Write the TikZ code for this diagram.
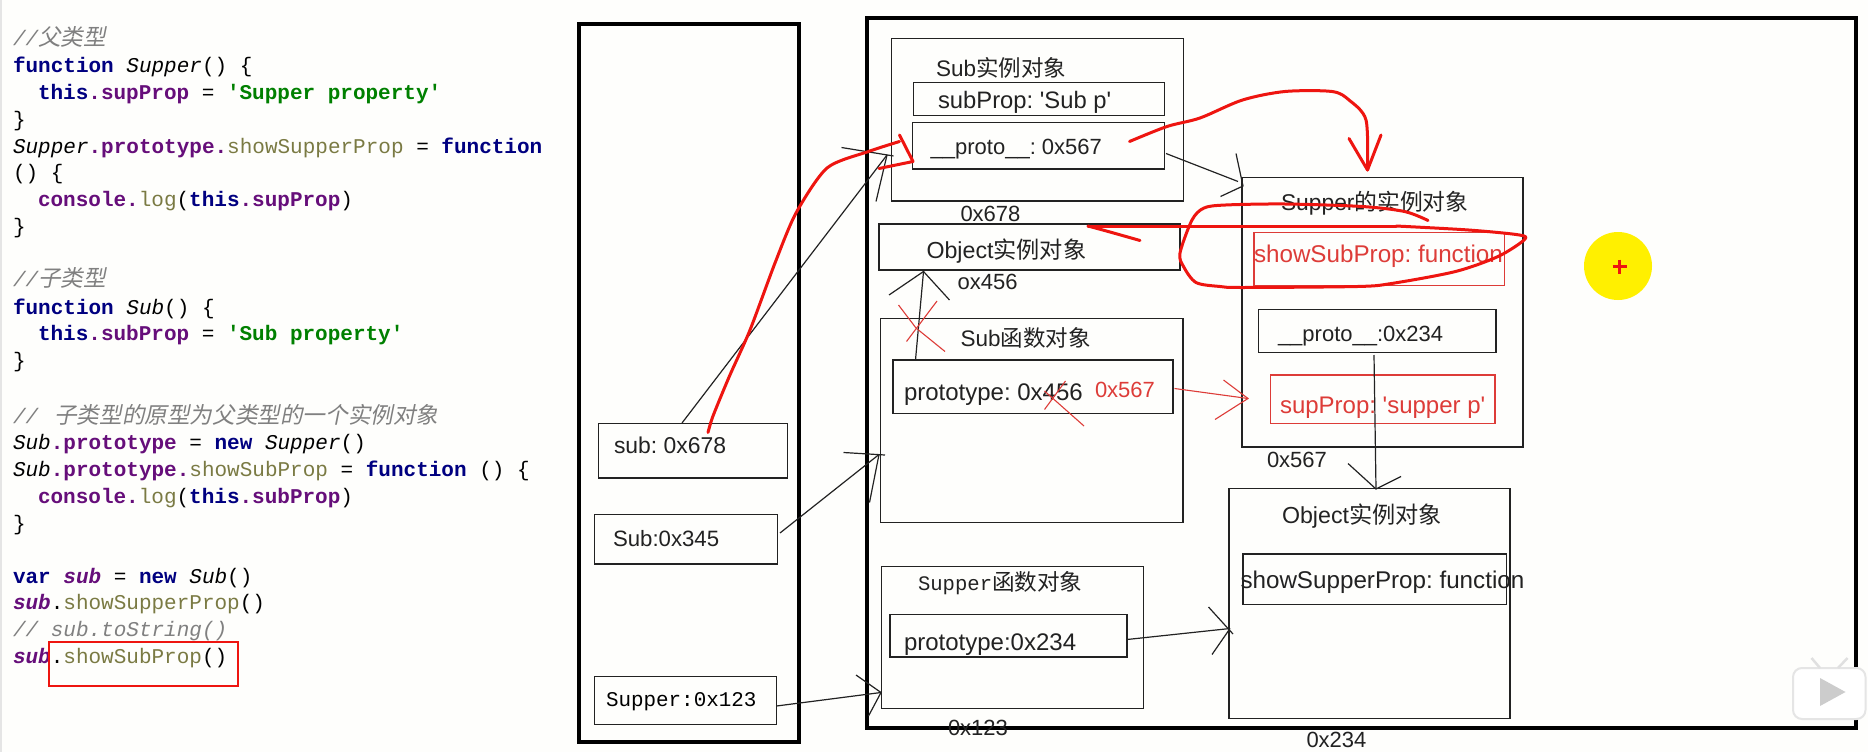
\documentclass[tikz,border=0pt]{standalone}
\usepackage{fontspec}
\usetikzlibrary{fit}
\setmonofont{Liberation Mono}
\newfontfamily\arialf{Liberation Sans}
\newfontfamily\cjkf{Noto Sans CJK SC}
\newfontfamily\cjkif[FakeSlant=0.2]{Noto Sans CJK SC}
\frenchspacing
\definecolor{ink}{HTML}{222222}
\definecolor{paper}{HTML}{FEFEFC}
\definecolor{kwblue}{HTML}{000080}
\definecolor{purp}{HTML}{660E7A}
\definecolor{strgreen}{HTML}{008000}
\definecolor{olive}{HTML}{7A7A43}
\definecolor{cmt}{HTML}{808080}
\definecolor{redink}{HTML}{EE1510}
\definecolor{softred}{HTML}{DD3C38}
\definecolor{spotyellow}{HTML}{FFF000}
\newcommand\zh[1]{{\cjkf #1}}
\newcommand\zhi[1]{{\cjkif\fontsize{22.6}{26}\selectfont #1}}
\newcommand\K[1]{\textcolor{kwblue}{\bfseries #1}}
\newcommand\PP[1]{\textcolor{purp}{\bfseries #1}}
\newcommand\ST[1]{\textcolor{strgreen}{\bfseries #1}}
\newcommand\OL[1]{\textcolor{olive}{#1}}
\newcommand\IT[1]{\textcolor{black}{\itshape #1}}
\newcommand\SB[1]{\textcolor{purp}{\bfseries\itshape #1}}
\newcommand\CM[1]{\textcolor{cmt}{\itshape #1}}
\tikzset{
  x=1pt,y=-1pt,
  thinbox/.style={draw=ink,line width=1.3pt,inner sep=0pt,outer sep=0pt},
  heavybox/.style={draw=black,line width=4pt,inner sep=0pt,outer sep=0pt},
  redbox/.style={draw=softred,line width=1.1pt,inner sep=0pt,outer sep=0pt},
  lab/.style={anchor=base west,inner sep=0pt,outer sep=0pt,text=ink,font=\arialf\fontsize{#1}{#1}\selectfont},
  redlab/.style={lab=#1,text=softred},
  code/.style={anchor=base west,inner sep=0pt,outer sep=0pt,text=black,font=\ttfamily\fontsize{21}{24}\selectfont},
  conn/.style={draw=ink,line width=1.2pt},
  marker/.style={draw=redink,line width=3pt,line cap=round,line join=round},
  thinred/.style={draw=softred,line width=1.1pt},
}
\begin{document}
\begin{tikzpicture}
\useasboundingbox (0,0) rectangle (1868,752);
\fill[paper] (0,0) rectangle (1868,752);
\fill[black!10] (0,0) rectangle (2,752);

% code
\node[code] (c1) at (13,46) {\CM{//}\zhi{\textcolor{cmt}{父类型}}};
\node[code] (c2) at (13,73) {\K{function} \IT{Supper}() \{};
\node[code] (c3) at (38,99.5) {\K{this}\PP{.supProp} = \ST{'Supper property'}};
\node[code] (c4) at (13,126) {\}};
\node[code] (c5) at (13,153) {\IT{Supper}\PP{.prototype.}\OL{showSupperProp} = \K{function}};
\node[code] (c6) at (13,179.5) {() \{};
\node[code] (c7) at (38,206) {\PP{console.}\OL{log}(\K{this}\PP{.supProp})};
\node[code] (c8) at (13,233) {\}};
\node[code] (c10) at (13,286) {\CM{//}\zhi{\textcolor{cmt}{子类型}}};
\node[code] (c11) at (13,314) {\K{function} \IT{Sub}() \{};
\node[code] (c12) at (38,340) {\K{this}\PP{.subProp} = \ST{'Sub property'}};
\node[code] (c13) at (13,367) {\}};
\node[code] (c15) at (13,423) {\CM{//}\hspace{16pt}\zhi{\textcolor{cmt}{子类型的原型为父类型的一个实例对象}}};
\node[code] (c16) at (13,449.5) {\IT{Sub}\PP{.prototype} = \K{new} \IT{Supper}()};
\node[code] (c17) at (13,476) {\IT{Sub}\PP{.prototype.}\OL{showSubProp} = \K{function} () \{};
\node[code] (c18) at (38,503) {\PP{console.}\OL{log}(\K{this}\PP{.subProp})};
\node[code] (c19) at (13,530) {\}};
\node[code] (c21) at (13,583) {\K{var} \SB{sub} = \K{new} \IT{Sub}()};
\node[code] (c22) at (13,609.5) {\SB{sub}.\OL{showSupperProp}()};
\node[code] (c23) at (13,636) {\CM{// sub.toString()}};
\node[code] (c24) at (13,663) {\SB{sub}.\OL{showSubProp}()};
\node[draw=redink,line width=2.5pt,inner sep=0pt,fit={(49,642)(238,686)}] (hilite) {};

% frames
\node[heavybox,fit={(578.5,24)(799,742)}] (stack) {};
\node[heavybox,fit={(866.5,18)(1856,728)}] (heap) {};

% stack entries
\node[thinbox,fit={(598.5,423.5)(787.5,478)}] (subvar) {};
\node[thinbox,fit={(594.5,514.5)(777.5,564)}] (subfn) {};
\node[thinbox,fit={(594.5,676.5)(776.5,724.5)}] (supfn) {};
\node[lab=22.9] (tsubvar) at (614,453) {sub: 0x678};
\node[lab=22.2] (tsubfn) at (613,546) {Sub:0x345};
\node[code,font=\ttfamily\fontsize{20.9}{24}\selectfont] (tsupfn) at (606,706) {Supper:0x123};

% Sub instance
\node[thinbox,fit={(891.5,38.5)(1183.5,201)}] (subinst) {};
\node[thinbox,fit={(913.5,82.5)(1164.5,115.5)}] (subprop) {};
\node[thinbox,fit={(912.5,122.5)(1164.5,169)}] (protoa) {};
\node[lab=22.5] (tsubinst) at (936,77) {Sub\zh{实例对象}};
\node[lab=23.8] (tsubprop) at (938,108) {subProp: 'Sub p'};
\node[lab=22] (tprotoa) at (930.7,154) {\_\_proto\_\_: 0x567};
\node[lab=22] (taddr678) at (960.5,221) {0x678};

% Object instance (middle)
\node[thinbox,fit={(879,224)(1180,270)}] (objmid) {};
\node[lab=23.2] (tobjmid) at (926.5,258.5) {Object\zh{实例对象}};
\node[lab=22] (taddr456) at (957.6,289) {ox456};

% Sub function
\node[thinbox,fit={(880.5,318.5)(1183,522.5)}] (subfunc) {};
\node[thinbox,fit={(893,360)(1173,413.5)}] (protob) {};
\node[lab=22.5] (tsubfunc) at (960.5,346) {Sub\zh{函数对象}};
\node[lab=24] (tprotob) at (904,400) {prototype: 0x456};
\node[redlab=22] (t567) at (1095,397) {0x567};

% Supper function
\node[thinbox,fit={(881.5,566.5)(1143.5,708.5)}] (supfunc) {};
\node[thinbox,fit={(890,614.5)(1127,657)}] (protoc) {};
\node[lab=22] (tsupfunc) at (918,590.5) {\ttfamily\fontsize{20.6}{24}\selectfont Supper\zh{\fontsize{22.6}{24}\selectfont 函数对象}};
\node[lab=24] (tprotoc) at (904,650.5) {prototype:0x234};
\node[lab=22] (taddr123) at (948,735.5) {0x123};

% Supper instance
\node[thinbox,fit={(1242,177.5)(1523,447)}] (supinst) {};
\node[redbox,fit={(1254,232.5)(1504.5,285.5)}] (showsub) {};
\node[thinbox,fit={(1258.5,309.5)(1496,352.5)}] (protod) {};
\node[redbox,fit={(1270.5,375)(1495,423.5)}] (supprop) {};
\node[lab=22.8] (tsupinst) at (1281,210.5) {Supper\zh{的实例对象}};
\node[redlab=24.2] (tshowsub) at (1254,262) {showSubProp: function};
\node[lab=22] (tprotod) at (1278,341) {\_\_proto\_\_:0x234};
\node[redlab=24] (tsupprop) at (1280,413) {supProp: 'supper p'};
\node[lab=22] (taddr567) at (1267,467.5) {0x567};

% Object instance (lower)
\node[thinbox,fit={(1229,488.5)(1510,718.5)}] (objlow) {};
\node[thinbox,fit={(1243,554)(1506.5,604.5)}] (showsup) {};
\node[lab=23.2] (tobjlow) at (1282,523) {Object\zh{实例对象}};
\node[lab=24.2] (tshowsup) at (1240.5,588.5) {showSupperProp: function};
\node[lab=22] (taddr234) at (1306.5,747.5) {0x234};

% black connectors with hand-drawn heads
\coordinate (a1s) at (682,423);
\coordinate (a1t) at (887,155);
\coordinate (a1h1) at (841.5,147.5);
\coordinate (a1h2) at (893.5,156);
\coordinate (a1h3) at (876,201.5);
\draw[conn] (a1s) -- (a1t);
\draw[conn] (a1h1) -- (a1h2);
\draw[conn] (a1h3) -- (a1t);

\coordinate (a2s) at (780,533);
\coordinate (a2t) at (879,454.5);
\coordinate (a2h1) at (843.5,452.5);
\coordinate (a2h2) at (885,455);
\coordinate (a2h3) at (869.5,502.5);
\draw[conn] (a2s) -- (a2t);
\draw[conn] (a2h1) -- (a2h2);
\draw[conn] (a2h3) -- (a2t);

\coordinate (a3s) at (776.5,706);
\coordinate (a3t) at (881,692.5);
\coordinate (a3h1) at (856,675);
\coordinate (a3h3) at (868.5,716);
\draw[conn] (a3s) -- (a3t);
\draw[conn] (a3h1) -- (a3t) -- (a3h3);

\coordinate (a4s) at (1127,639.5);
\coordinate (a4t) at (1230,628.5);
\coordinate (a4h1) at (1208.5,607);
\coordinate (a4h2) at (1233,634);
\coordinate (a4h3) at (1212,654.5);
\draw[conn] (a4s) -- (a4t);
\draw[conn] (a4h1) -- (a4h2);
\draw[conn] (a4h3) -- (a4t);

\coordinate (a5s) at (1166,153.5);
\coordinate (a5t) at (1243,186);
\coordinate (a5h1) at (1236,153.5);
\coordinate (a5h3) at (1220.5,196.5);
\draw[conn] (a5s) -- (1238,181.5);
\draw[conn] (a5h1) -- (a5t) -- (a5h3);

\coordinate (a6s) at (1374,355);
\coordinate (a6t) at (1376,489);
\coordinate (a6h1) at (1348,463.5);
\coordinate (a6h3) at (1401,476.5);
\draw[conn] (a6s) -- (a6t);
\draw[conn] (a6h1) -- (a6t) -- (a6h3);

\coordinate (a7s) at (915.5,360);
\coordinate (a7t) at (923.5,271.5);
\coordinate (a7h1) at (889,295);
\coordinate (a7h3) at (949.5,300);
\draw[conn] (a7s) -- (a7t);
\draw[conn] (a7h1) -- (a7t) -- (a7h3);

% thin red crosses and arrow
\draw[thinred] (937,301) -- (906.5,341.5);
\draw[thinred] (898.5,305) -- (916,328) -- (945,351.5);
\draw[thinred] (1065.5,381) -- (1044.5,409.5);
\draw[thinred] (1044.5,391) -- (1084,426);
\coordinate (r1s) at (1174.5,388.5);
\coordinate (r1t) at (1248,398.5);
\draw[thinred] (r1s) -- (r1t);
\draw[thinred] (1223.5,380) -- (r1t) -- (1215,419.5);

% red marker strokes
\coordinate (m1s) at (708,432.5);
\coordinate (m1t) at (899.5,141.5);
\draw[marker] plot[smooth,tension=.45] coordinates {(m1s) (713,416) (729.5,376) (750,330) (775,263) (796,213) (827,168) (868.5,151.5) (m1t)};
\draw[marker] (899.5,135) -- (913,161.5) -- (879,168.5);

\coordinate (m2s) at (1129.5,141.5);
\coordinate (m2t) at (1367.5,170);
\draw[marker] plot[smooth,tension=.5] coordinates {(m2s) (1167,126.5) (1200,118) (1242.5,100) (1285,91.5) (1332,91.5) (1349,100) (1366,120) (m2t)};
\draw[marker] (1349,138.5) -- (m2t) -- (1381,135);

\coordinate (m3s) at (1140,240.5);
\draw[marker] plot[smooth,tension=.4] coordinates {(m3s) (1110,232) (1088,226)};
\draw[marker] (1088,226) -- (1396,226);
\draw[marker] plot[smooth,tension=.5] coordinates {(1396,226) (1468.5,230) (1519.5,235) (1524,240) (1498,256.5) (1455.5,271.5) (1391.5,283.5) (1357.5,286.5) (1242.5,287.5) (1220,286.5) (1196,282.5) (1183.5,266.5) (1180,253) (1192,220) (1204,208) (1225.5,205) (1285,204) (1362,206.5) (1404.5,211.5) (1428,220.5)};

% cursor spot
\node[fill=spotyellow,draw=none,inner sep=0pt,minimum width=68pt,minimum height=68pt,circle] (spot) at (1618,266) {};
\draw[draw=redink,line width=2.2pt] (1612.5,266.5) -- (1627,266.5);
\draw[draw=redink,line width=2.2pt] (1619.5,259.5) -- (1619.5,274);

% watermark
\node[fit={(1793,668)(1865.5,719)},inner sep=0pt,rounded corners=9pt,fill=white,draw=black!10,line width=2pt] (wm) {};
\draw[black!12,line width=2.5pt] (1811.5,658) -- (1820,668);
\draw[black!12,line width=2.5pt] (1847.5,658) -- (1838,668);
\fill[black!20] (1820,678) -- (1820,706) -- (1845.5,692) -- cycle;
\end{tikzpicture}
\end{document}
